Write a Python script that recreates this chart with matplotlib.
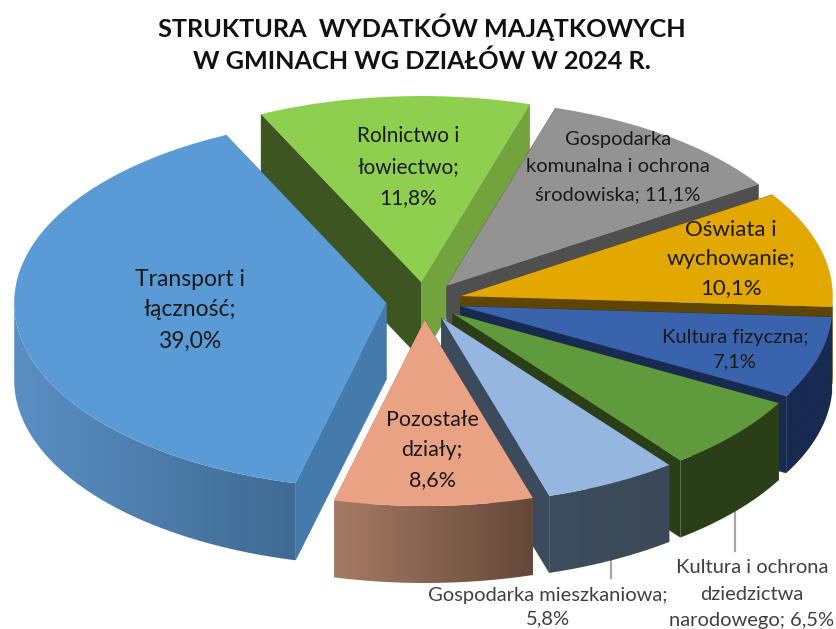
import numpy as np
import matplotlib
matplotlib.use("Agg")
import matplotlib.pyplot as plt
from matplotlib.colors import to_rgb
from matplotlib.patches import Polygon

plt.rcParams['font.family'] = ['Lato', 'DejaVu Sans']

# values in %, clockwise from the first slice
categories = ["Rolnictwo i\nłowiectwo", "Gospodarka\nkomunalna i ochrona\nśrodowiska", "Oświata i\nwychowanie",
              "Kultura fizyczna", "Kultura i ochrona\ndziedzictwa\nnarodowego", "Gospodarka mieszkaniowa",
              "Pozostałe\ndziały", "Transport i\nłączność"]
values = [11.8, 11.1, 10.1, 7.1, 6.5, 5.8, 8.6, 39.0]
value_labels = ["11,8%", "11,1%", "10,1%", "7,1%", "6,5%", "5,8%", "8,6%", "39,0%"]
top_colors = ["#8FCF50", "#939393", "#E2A800", "#3A63AE", "#5F9A3C", "#95B6DF", "#EAA285", "#5B9BD5"]
start_face = ["#3D5520", "#4F4F4F", "#5F4500", "#172A50", "#2A3F18", "#3C4B5C", "#644838", "#447AAC"]
end_face = ["#72A33D", "#4F4F4F", "#5F4500", "#172A50", "#2A3F18", "#3C4B5C", "#A67B66", "#447AAC"]
wall_left = ["#3D5520", "#4F4F4F", "#5F4500", "#172A50", "#2A3F18", "#3E4D5E", "#A67B66", "#5A8FC4"]
wall_right = ["#3D5520", "#4F4F4F", "#5F4500", "#172A50", "#2A3F18", "#3A4857", "#644838", "#3F6A92"]

# label centre in pixels
label_pos = [(408, 167), (618, 167), (731, 259), (735, 350), (752, 594), (548, 607), (432, 450), (190, 310)]
label_size = [15, 14.5, 16, 14.5, 14.5, 14.5, 15.5, 16.5]
label_color = ["#1a1a1a"] * 8
label_color[4] = label_color[5] = "#404040"
line_space = [1.7, 1.75, 1.55, 1.5, 1.65, 1.5, 1.62, 1.58]

cx, cy = 424, 301
rx, ry = 372, 186
ex, ey = 38, 19
depth = 77
start_angle = -25.5

# Transport is drawn before Pozostale so the front slice stays on top
draw_order = [0, 1, 2, 3, 4, 5, 7, 6]

fig = plt.figure(figsize=(8.36, 6.29), dpi=100)
ax = fig.add_axes([0, 0, 1, 1])

# leader lines sit behind the slices
ax.plot([735, 735], [505, 551], color="#A6A6A6", lw=1.6, zorder=0)
ax.plot([611, 611], [550, 578], color="#A6A6A6", lw=1.6, zorder=0)

edges = start_angle + np.cumsum([0] + values) * 3.6

z = 1
for i in draw_order:
    t1, t2 = edges[i], edges[i + 1]
    mid = np.radians((t1 + t2) / 2)
    tipx = cx + ex * np.sin(mid)
    tipy = cy - ey * np.cos(mid)
    th = np.radians(np.linspace(t1, t2, 200))
    xs = tipx + rx * np.sin(th)
    ys = tipy - ry * np.cos(th)

    # cut faces
    for k, col in ((0, start_face[i]), (-1, end_face[i])):
        pts = [(tipx, tipy), (xs[k], ys[k]), (xs[k], ys[k] + depth), (tipx, tipy + depth)]
        ax.add_patch(Polygon(pts, closed=True, fc=col, ec=col, lw=0.3, zorder=z))
    z += 1

    # outer wall, front half only, gradient left to right
    front = np.cos(th) < 0.02
    if front.any():
        xf, yf = xs[front], ys[front]
        c1 = np.array(to_rgb(wall_left[i]))
        c2 = np.array(to_rgb(wall_right[i]))
        grad = np.linspace(0, 1, 256)[None, :, None] * (c2 - c1) + c1
        pts = list(zip(xf, yf)) + list(zip(xf[::-1], yf[::-1] + depth))
        poly = Polygon(pts, closed=True, fc='none', ec='none', zorder=z)
        ax.add_patch(poly)
        im = ax.imshow(grad, extent=[xf.min(), xf.max(), (yf + depth).max(), yf.min()],
                       aspect='auto', zorder=z, interpolation='bilinear')
        im.set_clip_path(poly)
    z += 1

    # top
    pts = [(tipx, tipy)] + list(zip(xs, ys))
    ax.add_patch(Polygon(pts, closed=True, fc=top_colors[i], ec='none', zorder=z))
    z += 1

ax.set_xlim(0, 836)
ax.set_ylim(629, 0)
ax.axis('off')

for i, name in enumerate(categories):
    if "narodowego" in name or "środowiska" in name:
        txt = name + "; " + value_labels[i]
    else:
        txt = name + ";\n" + value_labels[i]
    ax.text(label_pos[i][0], label_pos[i][1], txt, ha='center', va='center', fontsize=label_size[i],
            color=label_color[i], linespacing=line_space[i], zorder=100)

ax.text(422, 43, "STRUKTURA  WYDATKÓW MAJĄTKOWYCH\nW GMINACH WG DZIAŁÓW W 2024 R.", ha='center', va='center',
        fontsize=18.2, fontweight='bold', color='#111111', linespacing=1.45, zorder=100)

fig.savefig("out.png", dpi=100)
